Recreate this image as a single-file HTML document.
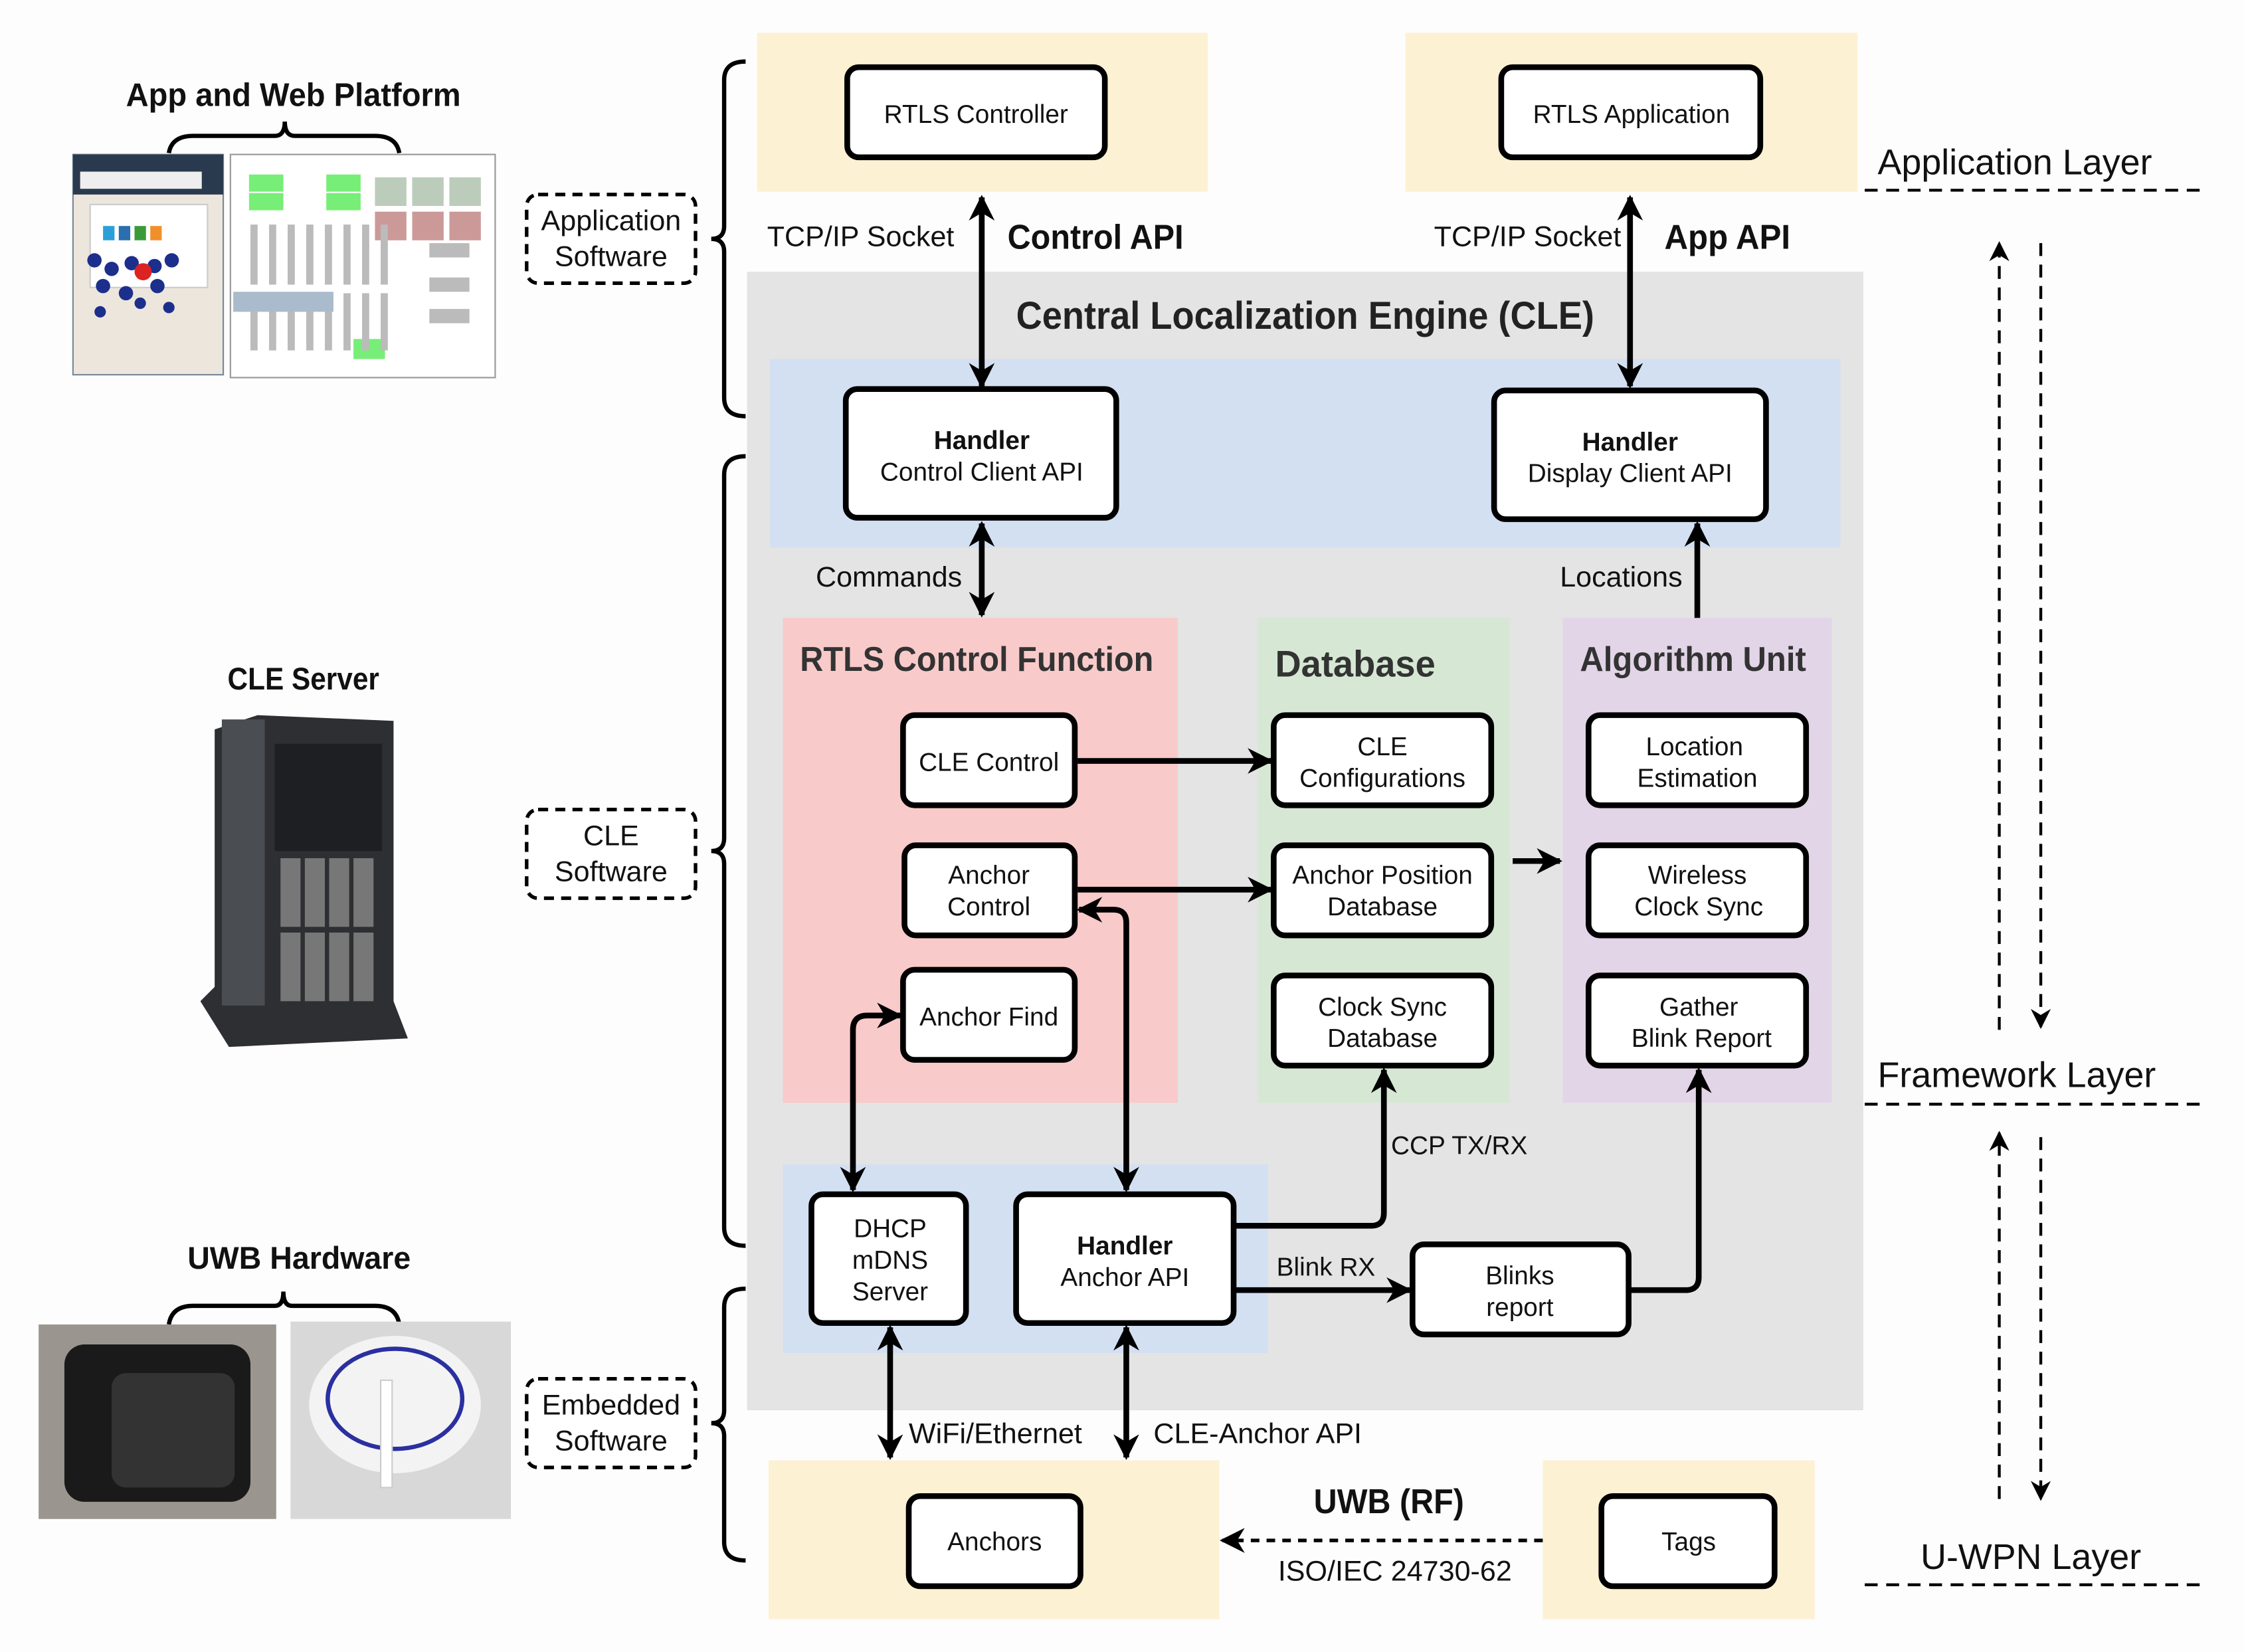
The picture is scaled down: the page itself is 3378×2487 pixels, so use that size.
<!DOCTYPE html>
<html><head><meta charset="utf-8"><style>
html,body{margin:0;padding:0;background:#fff;}
svg{display:block;}
text{font-family:"Liberation Sans",sans-serif;}
.n{font-size:18px;fill:#111;text-anchor:middle;}
.b{font-weight:bold;}
</style></head><body>
<svg width="3378" height="2487" viewBox="0 0 1568 1155" preserveAspectRatio="none" xmlns="http://www.w3.org/2000/svg">
<defs>
<marker id="a" viewBox="0 0 10 10" refX="9" refY="5" markerWidth="4.5" markerHeight="4.5" orient="auto-start-reverse"><path d="M0,0 L10,5 L0,10 L3,5z" fill="#000"/></marker>
<marker id="s" viewBox="0 0 10 10" refX="9" refY="5" markerWidth="7" markerHeight="7" orient="auto-start-reverse"><path d="M0,0 L10,5 L0,10 L3,5z" fill="#000"/></marker>
</defs>
<rect width="1568" height="1155" fill="#fdfdfd"/>
<rect x="529" y="23" width="315" height="111" fill="#fdf1d3"/>
<rect x="982" y="23" width="316" height="111" fill="#fdf1d3"/>
<rect x="522" y="190" width="780" height="796" fill="#e4e4e4"/>
<rect x="538" y="251" width="748" height="132" fill="#d3e0f2"/>
<rect x="547" y="432" width="276" height="339" fill="#f9caca"/>
<rect x="879" y="432" width="176" height="339" fill="#d6e8d4"/>
<rect x="1092" y="432" width="188" height="339" fill="#e2d5e8"/>
<rect x="547" y="814" width="339" height="132" fill="#d3e0f2"/>
<rect x="537" y="1021" width="315" height="111" fill="#fdf1d3"/>
<rect x="1078" y="1021" width="190" height="111" fill="#fdf1d3"/>

<g fill="#fff" stroke="#000" stroke-width="4">
<rect x="592" y="47" width="180" height="63" rx="8"/>
<rect x="1049" y="47" width="181" height="63" rx="8"/>
<rect x="591" y="272" width="189" height="90" rx="8"/>
<rect x="1044" y="273" width="190" height="90" rx="8"/>
<rect x="631" y="500" width="120" height="63" rx="8"/>
<rect x="632" y="591" width="119" height="63" rx="8"/>
<rect x="631" y="678" width="120" height="63" rx="8"/>
<rect x="890" y="500" width="152" height="63" rx="8"/>
<rect x="890" y="591" width="152" height="63" rx="8"/>
<rect x="890" y="682" width="152" height="63" rx="8"/>
<rect x="1110" y="500" width="152" height="63" rx="8"/>
<rect x="1110" y="591" width="152" height="63" rx="8"/>
<rect x="1110" y="682" width="152" height="63" rx="8"/>
<rect x="567" y="835" width="108" height="90" rx="8"/>
<rect x="710" y="835" width="152" height="90" rx="8"/>
<rect x="987" y="870" width="151" height="63" rx="8"/>
<rect x="635" y="1046" width="120" height="63" rx="8"/>
<rect x="1119" y="1046" width="121" height="63" rx="8"/>
</g>

<g class="n">
<text x="682" y="86">RTLS Controller</text>
<text x="1140" y="86">RTLS Application</text>
<text x="686" y="314" class="b">Handler</text><text x="686" y="336">Control Client API</text>
<text x="1139" y="315" class="b">Handler</text><text x="1139" y="337">Display Client API</text>
<text x="691" y="539">CLE Control</text>
<text x="691" y="618">Anchor</text><text x="691" y="640">Control</text>
<text x="691" y="717">Anchor Find</text>
<text x="966" y="528">CLE</text><text x="966" y="550">Configurations</text>
<text x="966" y="618">Anchor Position</text><text x="966" y="640">Database</text>
<text x="966" y="710">Clock Sync</text><text x="966" y="732">Database</text>
<text x="1184" y="528">Location</text><text x="1186" y="550">Estimation</text>
<text x="1186" y="618">Wireless</text><text x="1187" y="640">Clock Sync</text>
<text x="1187" y="710">Gather</text><text x="1189" y="732">Blink Report</text>
<text x="622" y="865">DHCP</text><text x="622" y="887">mDNS</text><text x="622" y="909">Server</text>
<text x="786" y="877" class="b">Handler</text><text x="786" y="899">Anchor API</text>
<text x="1062" y="898">Blinks</text><text x="1062" y="920">report</text>
<text x="695" y="1084">Anchors</text>
<text x="1180" y="1084">Tags</text>
</g>

<g stroke="#000" stroke-width="4" fill="none" marker-end="url(#a)">
<line x1="686" y1="138" x2="686" y2="270" marker-start="url(#a)"/>
<line x1="1139" y1="138" x2="1139" y2="270" marker-start="url(#a)"/>
<line x1="686" y1="366" x2="686" y2="430" marker-start="url(#a)"/>
<line x1="1186" y1="432" x2="1186" y2="366"/>
<line x1="753" y1="532" x2="888" y2="532"/>
<line x1="753" y1="622" x2="888" y2="622"/>
<line x1="1057" y1="602" x2="1090" y2="602"/>
<path d="M787,832 L787,645 Q787,636 778,636 L754,636" marker-start="url(#a)"/>
<path d="M596,832 L596,720 Q596,710 606,710 L629,710" marker-start="url(#a)"/>
<path d="M862,857 L958,857 Q967,857 967,848 L967,748"/>
<line x1="862" y1="902" x2="985" y2="902"/>
<path d="M1138,902 L1178,902 Q1187,902 1187,893 L1187,748"/>
<line x1="622" y1="928" x2="622" y2="1019" marker-start="url(#a)"/>
<line x1="787" y1="928" x2="787" y2="1019" marker-start="url(#a)"/>
<line x1="1078" y1="1077" x2="854" y2="1077" stroke-width="2.5" stroke-dasharray="6,5" marker-end="url(#s)"/>
</g>
<g stroke="#000" stroke-width="2" fill="none" stroke-dasharray="9,6" marker-end="url(#s)">
<line x1="1397" y1="720" x2="1397" y2="170"/>
<line x1="1426" y1="170" x2="1426" y2="718"/>
<line x1="1397" y1="1048" x2="1397" y2="792"/>
<line x1="1426" y1="795" x2="1426" y2="1048"/>
</g>
<g stroke="#000" stroke-width="2" stroke-dasharray="9,6">
<line x1="1303" y1="133" x2="1537" y2="133"/>
<line x1="1303" y1="772" x2="1537" y2="772"/>
<line x1="1303" y1="1108" x2="1537" y2="1108"/>
</g>

<g font-size="20" fill="#111">
<text x="536" y="172">TCP/IP Socket</text>
<text x="1002" y="172">TCP/IP Socket</text>
<text x="570" y="410">Commands</text>
<text x="1090" y="410">Locations</text>
<text x="635" y="1009">WiFi/Ethernet</text>
<text x="806" y="1009">CLE-Anchor API</text>
<text x="893" y="1105">ISO/IEC 24730-62</text>
</g>
<g font-size="18" fill="#111">
<text x="972" y="807">CCP TX/RX</text>
<text x="892" y="892">Blink RX</text>
</g>
<g font-weight="bold" fill="#111" lengthAdjust="spacingAndGlyphs">
<text x="704" y="174" font-size="24" textLength="123" lengthAdjust="spacingAndGlyphs">Control API</text>
<text x="1163" y="174" font-size="24" textLength="88" lengthAdjust="spacingAndGlyphs">App API</text>
<text x="918" y="1058" font-size="24" textLength="105" lengthAdjust="spacingAndGlyphs">UWB (RF)</text>
<text x="710" y="230" font-size="27" fill="#222" textLength="404" lengthAdjust="spacingAndGlyphs">Central Localization Engine (CLE)</text>
<text x="559" y="469" font-size="24" fill="#333" textLength="247" lengthAdjust="spacingAndGlyphs">RTLS Control Function</text>
<text x="891" y="473" font-size="26" fill="#333" textLength="112" lengthAdjust="spacingAndGlyphs">Database</text>
<text x="1104" y="469" font-size="24" fill="#333" textLength="158" lengthAdjust="spacingAndGlyphs">Algorithm Unit</text>
<text x="88" y="74" font-size="23" textLength="234" lengthAdjust="spacingAndGlyphs">App and Web Platform</text>
<text x="159" y="482" font-size="22" textLength="106" lengthAdjust="spacingAndGlyphs">CLE Server</text>
<text x="131" y="887" font-size="22" textLength="156" lengthAdjust="spacingAndGlyphs">UWB Hardware</text>
</g>
<g font-size="25" fill="#111">
<text x="1312" y="122">Application Layer</text>
<text x="1312" y="760">Framework Layer</text>
<text x="1342" y="1097">U-WPN Layer</text>
</g>

<g stroke="#000" stroke-width="3" fill="none">
<path d="M521,43 Q506,43 506,56 L506,158 Q506,167 497,167 Q506,167 506,176 L506,278 Q506,291 521,291"/>
<path d="M521,319 Q506,319 506,332 L506,586 Q506,595 497,595 Q506,595 506,604 L506,858 Q506,871 521,871"/>
<path d="M521,901 Q506,901 506,914 L506,986 Q506,995 497,995 Q506,995 506,1004 L506,1078 Q506,1091 521,1091"/>
<path d="M118,107 Q120,95 135,95 L192,95 Q199,95 199,85 Q199,95 206,95 L262,95 Q277,95 279,107"/>
<path d="M118,926 Q120,913 135,913 L192,913 Q198,913 198,903 Q198,913 204,913 L262,913 Q277,913 279,926"/>
</g>
<g stroke="#000" stroke-width="2.5" fill="#fff" stroke-dasharray="7,5">
<rect x="368" y="136" width="118" height="62" rx="8"/>
<rect x="368" y="566" width="118" height="62" rx="8"/>
<rect x="368" y="964" width="118" height="62" rx="8"/>
</g>
<g font-size="20" fill="#111" text-anchor="middle">
<text x="427" y="161">Application</text><text x="427" y="186">Software</text>
<text x="427" y="591">CLE</text><text x="427" y="616">Software</text>
<text x="427" y="989">Embedded</text><text x="427" y="1014">Software</text>
</g>

<rect x="51" y="108" width="105" height="154" fill="#ede6dc" stroke="#789" stroke-width="1"/>
<rect x="51" y="108" width="105" height="28" fill="#2a3a4e"/>
<rect x="56" y="120" width="85" height="12" fill="#eee"/>
<rect x="63" y="143" width="82" height="58" fill="#fff" stroke="#ccc"/>
<rect x="72" y="158" width="8" height="10" fill="#2aa0d8"/><rect x="83" y="158" width="8" height="10" fill="#2a6fb0"/><rect x="94" y="158" width="8" height="10" fill="#3a9a3a"/><rect x="105" y="158" width="8" height="10" fill="#f0902a"/>
<g fill="#1d2f8c"><circle cx="66" cy="182" r="5"/><circle cx="78" cy="188" r="5"/><circle cx="92" cy="184" r="5"/><circle cx="108" cy="186" r="5"/><circle cx="120" cy="182" r="5"/><circle cx="72" cy="200" r="5"/><circle cx="88" cy="205" r="5"/><circle cx="110" cy="200" r="5"/><circle cx="98" cy="212" r="4"/><circle cx="70" cy="218" r="4"/><circle cx="118" cy="215" r="4"/></g>
<circle cx="100" cy="190" r="6" fill="#d22"/>
<rect x="161" y="108" width="185" height="156" fill="#fff" stroke="#999" stroke-width="1"/>
<g fill="#7e7"><rect x="174" y="122" width="24" height="12"/><rect x="228" y="122" width="24" height="12"/><rect x="174" y="135" width="24" height="12"/><rect x="228" y="135" width="24" height="12"/><rect x="247" y="237" width="22" height="14"/></g>
<g fill="#bcb"><rect x="262" y="124" width="22" height="20"/><rect x="288" y="124" width="22" height="20"/><rect x="314" y="124" width="22" height="20"/></g>
<g fill="#c99"><rect x="262" y="148" width="22" height="20"/><rect x="288" y="148" width="22" height="20"/><rect x="314" y="148" width="22" height="20"/></g>
<g fill="#bbb"><rect x="175" y="157" width="5" height="42"/><rect x="188" y="157" width="5" height="42"/><rect x="201" y="157" width="5" height="42"/><rect x="214" y="157" width="5" height="42"/><rect x="227" y="157" width="5" height="42"/><rect x="240" y="157" width="5" height="42"/><rect x="253" y="157" width="5" height="42"/><rect x="266" y="157" width="5" height="42"/><rect x="175" y="205" width="5" height="40"/><rect x="188" y="205" width="5" height="40"/><rect x="201" y="205" width="5" height="40"/><rect x="214" y="205" width="5" height="40"/><rect x="227" y="205" width="5" height="40"/><rect x="240" y="205" width="5" height="40"/><rect x="253" y="205" width="5" height="40"/><rect x="266" y="205" width="5" height="40"/><rect x="300" y="170" width="28" height="10"/><rect x="300" y="194" width="28" height="10"/><rect x="300" y="216" width="28" height="10"/></g>
<rect x="163" y="204" width="70" height="14" fill="#abc"/>

<path d="M150,510 L180,500 L275,504 L275,700 L285,726 L160,732 L140,700 L150,690 Z" fill="#2d2f33"/>
<rect x="155" y="503" width="30" height="200" fill="#4a4d52"/>
<rect x="192" y="520" width="75" height="75" fill="#1e1f22"/>
<g fill="#777"><rect x="196" y="600" width="14" height="48"/><rect x="213" y="600" width="14" height="48"/><rect x="230" y="600" width="14" height="48"/><rect x="247" y="600" width="14" height="48"/><rect x="196" y="652" width="14" height="48"/><rect x="213" y="652" width="14" height="48"/><rect x="230" y="652" width="14" height="48"/><rect x="247" y="652" width="14" height="48"/></g>

<rect x="27" y="926" width="166" height="136" fill="#9a958e"/>
<rect x="45" y="940" width="130" height="110" rx="14" fill="#1a1a1a"/>
<rect x="78" y="960" width="86" height="80" rx="10" fill="#333"/>
<rect x="203" y="924" width="154" height="138" fill="#d8d8d8"/>
<ellipse cx="276" cy="982" rx="60" ry="48" fill="#f3f3f3"/>
<ellipse cx="276" cy="978" rx="47" ry="35" fill="none" stroke="#2a30a0" stroke-width="3"/>
<rect x="266" y="965" width="8" height="75" fill="#fff" stroke="#ccc"/>
</svg>
</body></html>
